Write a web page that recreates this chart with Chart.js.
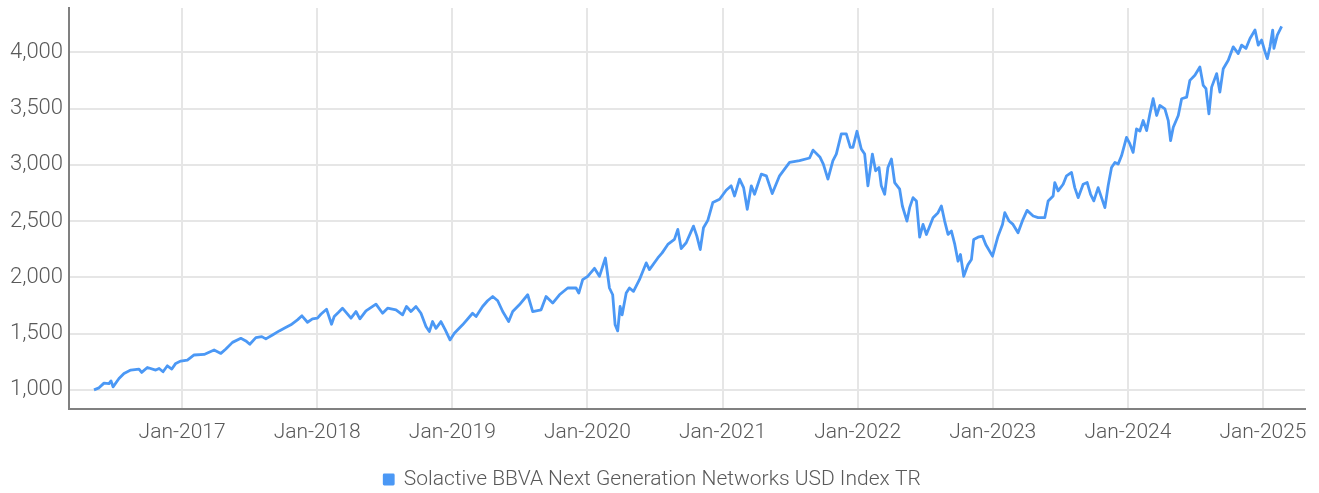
<!DOCTYPE html>
<html>
<head>
<meta charset="utf-8">
<title>Solactive BBVA Next Generation Networks USD Index TR</title>
<script src="https://cdn.jsdelivr.net/npm/chart.js@4"></script>
<style>
  html, body { margin: 0; padding: 0; background: #fff; }
  #wrap { width: 1319px; height: 493px; }
</style>
</head>
<body>
<div id="wrap"><canvas id="myChart" width="1319" height="493"></canvas></div>
<script>
// index level, sampled dates as fractional years
const years = [
  2016.348, 2016.385, 2016.422, 2016.459, 2016.474, 2016.489, 2016.533, 2016.570, 2016.620, 2016.681,
  2016.701, 2016.743, 2016.805, 2016.830, 2016.859, 2016.891, 2016.924, 2016.953, 2016.990, 2017.039,
  2017.089, 2017.163, 2017.237, 2017.287, 2017.324, 2017.373, 2017.435, 2017.472, 2017.501, 2017.546,
  2017.590, 2017.620, 2017.669, 2017.719, 2017.756, 2017.805, 2017.854, 2017.887, 2017.928, 2017.965,
  2018.002, 2018.027, 2018.069, 2018.106, 2018.126, 2018.158, 2018.187, 2018.250, 2018.287, 2018.316,
  2018.361, 2018.435, 2018.484, 2018.521, 2018.583, 2018.632, 2018.661, 2018.694, 2018.731, 2018.768,
  2018.805, 2018.830, 2018.854, 2018.879, 2018.916, 2018.948, 2018.983, 2019.015, 2019.076, 2019.150,
  2019.176, 2019.224, 2019.261, 2019.299, 2019.336, 2019.373, 2019.417, 2019.447, 2019.496, 2019.558,
  2019.595, 2019.657, 2019.694, 2019.743, 2019.793, 2019.854, 2019.916, 2019.936, 2019.965, 2020.002,
  2020.052, 2020.089, 2020.133, 2020.163, 2020.187, 2020.205, 2020.224, 2020.242, 2020.257, 2020.287,
  2020.311, 2020.341, 2020.385, 2020.435, 2020.459, 2020.521, 2020.553, 2020.595, 2020.644, 2020.669,
  2020.694, 2020.731, 2020.785, 2020.810, 2020.835, 2020.859, 2020.891, 2020.928, 2020.978, 2021.027,
  2021.064, 2021.089, 2021.126, 2021.156, 2021.183, 2021.213, 2021.237, 2021.287, 2021.324, 2021.368,
  2021.422, 2021.496, 2021.570, 2021.644, 2021.670, 2021.722, 2021.746, 2021.780, 2021.817, 2021.842,
  2021.879, 2021.916, 2021.946, 2021.965, 2021.995, 2022.027, 2022.052, 2022.076, 2022.109, 2022.133,
  2022.158, 2022.175, 2022.200, 2022.224, 2022.250, 2022.274, 2022.311, 2022.331, 2022.365, 2022.385,
  2022.410, 2022.435, 2022.459, 2022.484, 2022.509, 2022.558, 2022.595, 2022.620, 2022.644, 2022.669,
  2022.694, 2022.719, 2022.743, 2022.761, 2022.785, 2022.817, 2022.842, 2022.859, 2022.891, 2022.924,
  2022.948, 2022.998, 2023.039, 2023.072, 2023.089, 2023.121, 2023.150, 2023.187, 2023.224, 2023.254,
  2023.299, 2023.336, 2023.385, 2023.410, 2023.447, 2023.459, 2023.484, 2023.521, 2023.546, 2023.583,
  2023.607, 2023.632, 2023.669, 2023.699, 2023.724, 2023.748, 2023.780, 2023.805, 2023.830, 2023.854,
  2023.879, 2023.904, 2023.928, 2023.953, 2023.990, 2024.015, 2024.039, 2024.064, 2024.089, 2024.113,
  2024.139, 2024.163, 2024.187, 2024.213, 2024.237, 2024.274, 2024.299, 2024.316, 2024.336, 2024.373,
  2024.398, 2024.435, 2024.459, 2024.496, 2024.533, 2024.558, 2024.578, 2024.600, 2024.620, 2024.657,
  2024.681, 2024.706, 2024.743, 2024.780, 2024.817, 2024.842, 2024.874, 2024.904, 2024.941, 2024.965,
  2024.990, 2025.015, 2025.032, 2025.052, 2025.072, 2025.081, 2025.106, 2025.138
];
const levels = [
  1000, 1018, 1060, 1056, 1080, 1027, 1101, 1146, 1176, 1185,
  1155, 1199, 1176, 1190, 1161, 1214, 1185, 1235, 1256, 1265,
  1310, 1315, 1354, 1324, 1363, 1422, 1458, 1435, 1405, 1464,
  1473, 1453, 1488, 1524, 1547, 1578, 1622, 1658, 1601, 1631,
  1637, 1672, 1717, 1583, 1652, 1690, 1726, 1637, 1696, 1631,
  1702, 1762, 1681, 1726, 1711, 1667, 1741, 1696, 1741, 1681,
  1563, 1518, 1607, 1547, 1607, 1533, 1444, 1503, 1578, 1681,
  1652, 1741, 1792, 1830, 1792, 1696, 1607, 1696, 1756, 1845,
  1696, 1711, 1830, 1771, 1845, 1905, 1905, 1860, 1979, 2009,
  2080, 2009, 2172, 1905, 1845, 1578, 1524, 1741, 1667, 1860,
  1905, 1875, 1979, 2128, 2069, 2172, 2217, 2292, 2337, 2426,
  2256, 2307, 2455, 2366, 2247, 2440, 2506, 2664, 2694, 2774,
  2813, 2723, 2872, 2797, 2604, 2813, 2738, 2917, 2902, 2744,
  2902, 3021, 3036, 3060, 3130, 3066, 3006, 2872, 3036, 3095,
  3274, 3274, 3155, 3155, 3298, 3140, 3095, 2813, 3095, 2946,
  2976, 2813, 2738, 2976, 3051, 2842, 2783, 2634, 2500, 2619,
  2708, 2679, 2357, 2470, 2381, 2530, 2574, 2634, 2500, 2381,
  2411, 2292, 2143, 2203, 2009, 2113, 2158, 2337, 2357, 2366,
  2292, 2188, 2366, 2470, 2574, 2500, 2470, 2396, 2515, 2595,
  2545, 2530, 2530, 2679, 2723, 2842, 2768, 2827, 2902, 2932,
  2797, 2708, 2827, 2842, 2738, 2679, 2797, 2708, 2619, 2813,
  2976, 3021, 3006, 3080, 3244, 3185, 3110, 3318, 3300, 3393,
  3304, 3453, 3587, 3438, 3527, 3497, 3393, 3214, 3333, 3438,
  3587, 3601, 3750, 3795, 3869, 3705, 3676, 3453, 3690, 3810,
  3646, 3854, 3929, 4048, 3988, 4063, 4034, 4122, 4197, 4063,
  4108, 4003, 3943, 4048, 4197, 4034, 4152, 4229
];
const gridYears = [2017, 2018, 2019, 2020, 2021, 2022, 2023, 2024, 2025];
const gridLevels = [1000, 1500, 2000, 2500, 3000, 3500, 4000];
const seriesName = "Solactive BBVA Next Generation Networks USD Index TR";

const lineColor = "#4b98f5";
const textColor = "#595959";
const family = "Roboto, 'DejaVu Sans Condensed', sans-serif";

const points = years.map((y, i) => ({ x: y, y: levels[i] }));

const config = {
  type: "line",
  data: {
    datasets: [{
      label: seriesName,
      data: points,
      borderColor: lineColor,
      backgroundColor: lineColor,
      borderWidth: 2.8,
      pointRadius: 0,
      tension: 0,
      borderJoinStyle: "round",
    }]
  },
  options: {
    responsive: false,
    animation: false,
    layout: { padding: { top: 8, right: 14, left: 0, bottom: -7 } },
    scales: {
      x: {
        type: "linear",
        min: 2016.163,
        max: 2025.311,
        afterBuildTicks: axis => { axis.ticks = gridYears.map(v => ({ value: v })); },
        afterFit: axis => {
          axis.height = 50;
          axis.paddingLeft = 0;
          axis.paddingRight = 0;
        },
        grid: { color: "#e6e6e6", lineWidth: 2, drawTicks: false },
        border: { display: true, color: "#808080", width: 2 },
        ticks: {
          color: textColor,
          padding: 11,
          maxRotation: 0,
          font: { family: family, size: 21, weight: 300 },
          callback: v => "Jan-" + v,
        },
      },
      y: {
        min: 830,
        max: 4393,
        afterBuildTicks: axis => { axis.ticks = gridLevels.map(v => ({ value: v })); },
        afterFit: axis => {
          axis.width = 69;
          axis.paddingTop = 0;
          axis.paddingBottom = 0;
        },
        grid: { color: "#e6e6e6", lineWidth: 2, drawTicks: false },
        border: { display: true, color: "#808080", width: 2 },
        ticks: {
          color: textColor,
          padding: 6,
          font: { family: family, size: 22, weight: 300 },
          callback: v => v.toLocaleString("en-US"),
        },
      },
    },
    plugins: {
      legend: {
        position: "bottom",
        labels: {
          boxWidth: 9,
          boxHeight: 9,
          padding: 10,
          color: textColor,
          font: { family: family, size: 21, weight: 300 },
        },
      },
      tooltip: { enabled: false },
    },
  },
};

var ctx = document.getElementById("myChart").getContext("2d");
var myChart = new Chart(ctx, config);
</script>
</body>
</html>
